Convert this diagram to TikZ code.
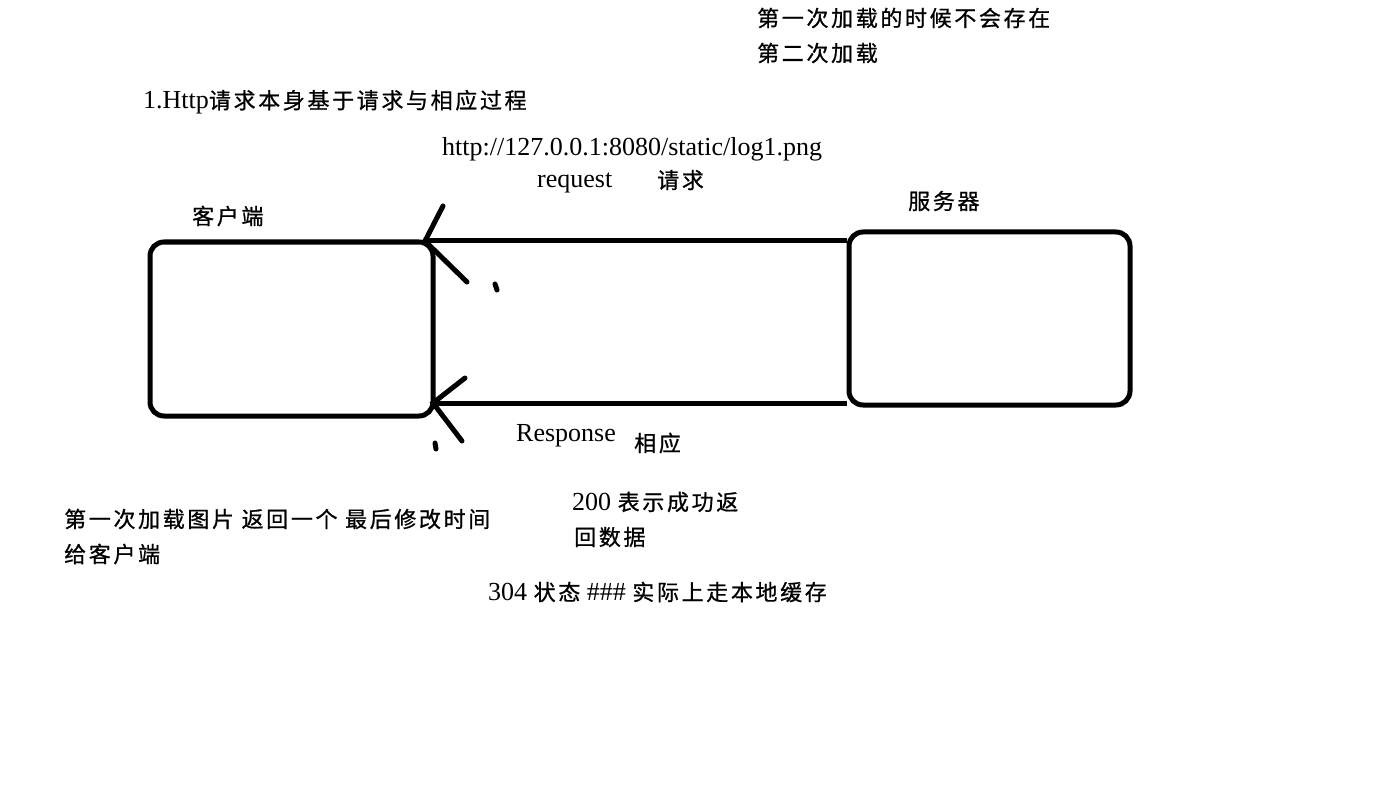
\documentclass[tikz,border=0pt]{standalone}
\usepackage{fontspec}
\setmainfont{Liberation Serif}
\newfontfamily\cjkfam[LetterSpace=12,FakeBold=0.8]{Noto Sans CJK SC}
\newcommand\zh[1]{{\cjkfam\fontsize{22}{26}\selectfont #1}}
\begin{document}
\begin{tikzpicture}[x=1pt,y=-1pt,
  txt/.style={anchor=west, inner sep=0pt, font=\fontsize{26}{30}\selectfont},
  box/.style={draw, line width=5pt, rounded corners=14pt, inner sep=0pt},
  wire/.style={line width=5pt},
  barb/.style={line width=5pt, line cap=round}]
\useasboundingbox[fill=white] (0,0) rectangle (1376,805);

% boxes
\node[box, minimum width=283pt, minimum height=174pt] (client) at (291.5,329) {};
\node[box, minimum width=281pt, minimum height=173pt] (server) at (989.5,318.5) {};

% connectors
\coordinate (tipA) at (425,241);
\coordinate (tipB) at (433,403);
\draw[wire] (tipA) -- (tipA -| server.west);
\draw[wire] (tipB) -- (tipB -| server.west);

% hand-drawn arrowheads
\coordinate (a1) at (443,206);
\coordinate (a2) at (467,282);
\coordinate (b1) at (465,378);
\coordinate (b2) at (462,441);
\draw[barb] (a1) -- (tipA) -- (a2);
\draw[barb] (b1) -- (tipB) -- (b2);
\coordinate (d1s) at (495,284);
\coordinate (d1e) at (497,290);
\coordinate (d2s) at (435,443);
\coordinate (d2e) at (436,449);
\draw[barb] (d1s) -- (d1e);
\draw[barb] (d2s) -- (d2e);

% texts
\node[txt] (t1) at (757,18) {\zh{第一次加载的时候不会存在}};
\node[txt] (t2) at (757,53) {\zh{第二次加载}};
\node[txt] (t3) at (143,102) {1.Http\zh{请求本身基于请求与相应过程}};
\node[txt] (url) at (442,149) {http://127.0.0.1:8080/static/log1.png};
\node[txt] (req) at (537,183) {request};
\node[txt] (reqzh) at (657,180) {\zh{请求}};
\node[txt] (clab) at (192,216) {\zh{客户端}};
\node[txt] (slab) at (908,201) {\zh{服务器}};
\node[txt] (resp) at (516,436) {Response};
\node[txt] (respzh) at (634,443) {\zh{相应}};
\node[txt] (s200a) at (572,502) {200 \zh{表示成功返}};
\node[txt] (s200b) at (574,537) {\zh{回数据}};
\node[txt] (n1) at (64,519) {\zh{第一次加载图片 返回一个 最后修改时间}};
\node[txt] (n2) at (64,554) {\zh{给客户端}};
\node[txt] (s304) at (488,592) {304 \zh{状态} \#\#\# \zh{实际上走本地缓存}};
\end{tikzpicture}
\end{document}
